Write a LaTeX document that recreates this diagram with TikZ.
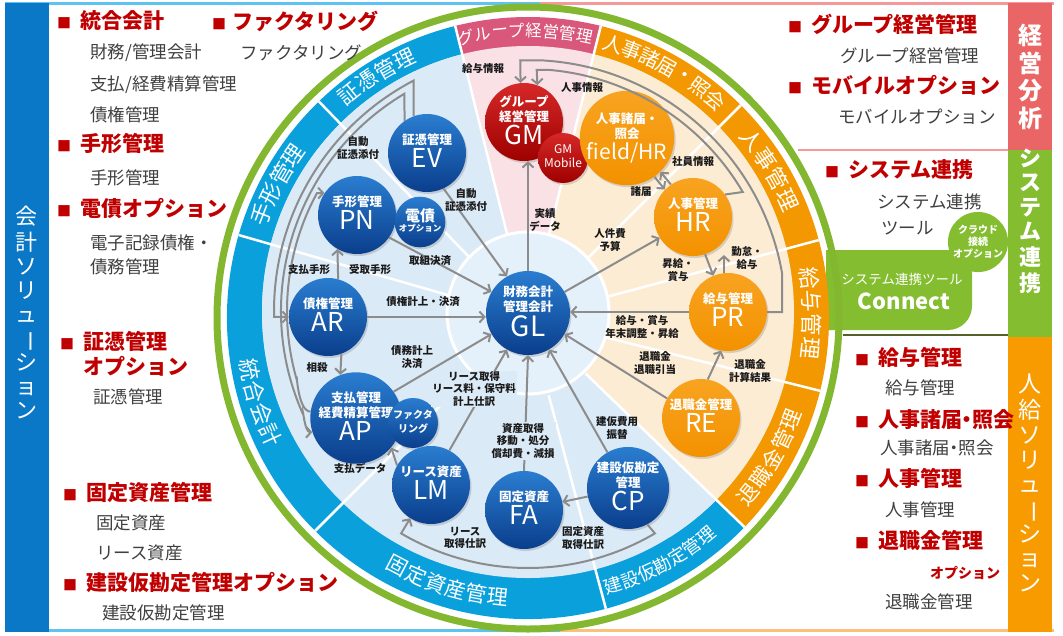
\documentclass[tikz,border=0pt]{standalone}
\usepackage{fontspec}
\setmainfont{Noto Sans CJK JP}
\usetikzlibrary{arrows.meta,shadows,calc}
\definecolor{gring}{HTML}{82B72F}
\definecolor{bband}{HTML}{0AA0DC}
\definecolor{pband}{HTML}{D9577A}
\definecolor{oband}{HTML}{F39800}
\definecolor{lblue}{HTML}{DBEAF7}
\definecolor{iblue}{HTML}{E4F0FA}
\definecolor{lpink}{HTML}{F9E1E6}
\definecolor{lorange}{HTML}{FDECD4}
\definecolor{nbT}{HTML}{2A7DD0}
\definecolor{nbB}{HTML}{0A3E8C}
\definecolor{nrT}{HTML}{D62828}
\definecolor{nrB}{HTML}{9E0000}
\definecolor{noT}{HTML}{F8A320}
\definecolor{noB}{HTML}{F39200}
\definecolor{hred}{HTML}{C00000}
\definecolor{gtext}{HTML}{404040}
\definecolor{conncol}{HTML}{8C8C8C}
\definecolor{lbar}{HTML}{0A78C6}
\definecolor{kbar}{HTML}{EA6565}
\definecolor{sbar}{HTML}{84BD2F}
\definecolor{jbar}{HTML}{F79B00}
\definecolor{topblue}{HTML}{5EC3F0}
\definecolor{toppink}{HTML}{F59A9A}
\definecolor{botorange}{HTML}{FBC07A}
\definecolor{olivec}{HTML}{55602A}
\definecolor{lblc}{HTML}{1A1A1A}
\newcommand{\ttl}{\fontsize{12.5}{14.5}\selectfont\bfseries}
\newcommand{\cde}{\fontsize{26}{27}\selectfont}
\newcommand{\hsq}{\makebox[23pt][l]{\fontsize{14}{14}\selectfont ■}}
\newcommand{\ringtext}[7]{%
 \foreach \ch [count=\rtI] in {#1} {%
   \pgfmathsetmacro{\rtA}{#3 + #5*((#2-1)/2 - (\rtI-1))*#4}%
   \pgfmathsetmacro{\rtR}{\rtA - #5*90}%
   \node[text=white, inner sep=0pt, font=\fontsize{#7}{#7}\selectfont, rotate=\rtR] at (\rtA:#6) {\ch};%
 }}
\tikzset{
 conn/.style={draw=conncol, line width=2pt, -{Straight Barb[length=5pt,width=11pt]}},
 plain/.style={draw=conncol, line width=2pt},
 shd/.style={drop shadow={opacity=0.3,shadow xshift=1.5pt,shadow yshift=-2pt}},
 bnode/.style={circle, inner sep=0pt, top color=nbT, bottom color=nbB, text=white, shd, font=\fontsize{12}{13.5}\selectfont},
 rnode/.style={circle, inner sep=0pt, top color=nrT, bottom color=nrB, text=white, shd, font=\fontsize{12}{13.5}\selectfont},
 onode/.style={circle, inner sep=0pt, top color=noT, bottom color=noB, text=white, shd, font=\fontsize{12}{13.5}\selectfont},
 lbl/.style={font=\fontsize{10.5}{12.5}\selectfont\bfseries, text=lblc, align=center, inner sep=1pt},
 hd/.style={anchor=west, text=hred, font=\fontsize{21}{23}\selectfont\bfseries, inner sep=0pt},
 bt/.style={anchor=west, text=gtext, font=\fontsize{17.5}{23}\selectfont, inner sep=0pt, align=left},
 vbar/.style={text=white, inner sep=0pt},
}
\begin{document}
\begin{tikzpicture}[x=1pt,y=-1pt]
\useasboundingbox (0,0) rectangle (1063,635);
\fill[white] (0,0) rectangle (1063,635);
% frame
\draw[topblue, line width=3] (5,3.5) -- (540,3.5);
\draw[toppink, line width=3] (540,3.5) -- (1054,3.5);
\draw[topblue, line width=3] (5,630) -- (560,630);
\draw[botorange, line width=3] (560,630) -- (1054,630);
\fill[lbar] (5,3) rectangle (49,632);
\fill[kbar] (1008,3) rectangle (1052,150);
\fill[sbar] (1008,150) rectangle (1052,337);
\fill[jbar] (1008,337) rectangle (1052,632);
\draw[toppink, line width=2] (798,150) -- (1008,150);
\draw[olivec, line width=2] (843,335) -- (1008,335);
% bar texts
\node[vbar, font=\fontsize{22}{24}\selectfont] (barL) at (27,316) {\begin{tabular}{@{}c@{}}会\\計\\ソ\\リ\\ュ\\\rotatebox[origin=c]{-90}{ー}\\シ\\ョ\\ン\end{tabular}};
\node[vbar, font=\fontsize{24}{23.5}\selectfont\bfseries] (barK) at (1030,79) {\begin{tabular}{@{}c@{}}経\\営\\分\\析\end{tabular}};
\node[vbar, font=\fontsize{22}{24}\selectfont\bfseries] (barS) at (1030,224) {\begin{tabular}{@{}c@{}}シ\\ス\\テ\\ム\\連\\携\end{tabular}};
\node[vbar, font=\fontsize{23}{24.5}\selectfont] (barJ) at (1030,486) {\begin{tabular}{@{}c@{}}人\\給\\ソ\\リ\\ュ\\\rotatebox[origin=c]{-90}{ー}\\シ\\ョ\\ン\end{tabular}};
% connect shape
\fill[sbar] (826,250) [rounded corners=24] -- (972,250) -- (972,330) [sharp corners] -- (826,330) -- cycle;
\node[circle, fill=sbar, minimum size=60, inner sep=0pt, text=white, align=center, font=\fontsize{10}{12}\selectfont\bfseries] (cloud) at (978,242) {クラウド\\接続\\オプション};
\node[text=white, inner sep=0pt, font=\fontsize{13.5}{14}\selectfont] (cn1) at (902,279) {システム連携ツール};
\node[text=white, inner sep=0pt, font=\fontsize{22}{24}\selectfont\bfseries] (cn2) at (904,301) {Connect};
% ===== circle =====
\begin{scope}[shift={(528,318)}, yscale=-1]
 \draw[gring, line width=7] (0,0) circle (311);
 \fill[bband] (0,0) -- (104:301) arc[start angle=104, end angle=316, radius=301] -- cycle;
 \fill[pband] (0,0) -- (76:301) arc[start angle=76, end angle=104, radius=301] -- cycle;
 \fill[oband] (0,0) -- (-44:301) arc[start angle=-44, end angle=76, radius=301] -- cycle;
 \begin{scope}
  \clip (0,6) circle (266);
  \fill[lblue] (0,0) -- (104:400) -- (180:400) -- (316:400) -- cycle;
  \fill[lblue] (0,0) -- (104:400) -- (180:400) -- (240:400) -- (316:400) -- cycle;
  \fill[lpink] (0,0) -- (76:400) -- (104:400) -- cycle;
  \fill[lorange] (0,0) -- (-44:400) -- (0:400) -- (76:400) -- cycle;
 \end{scope}
 \foreach \a in {104,134,164,225,285,316,346,15,45,76} \draw[white, line width=2.5] (\a:80) -- (\a:301);
 \fill[iblue] (0,5) circle (81);
 \draw[white, line width=3] (0,5) circle (81);
 \ringtext{証,憑,管,理}{4}{122}{4.4}{1}{287}{21}
 \ringtext{手,形,管,理}{4}{152}{4.5}{1}{285.5}{22}
 \ringtext{統,合,会,計}{4}{197.5}{4.6}{-1}{283}{22}
 \ringtext{固,定,資,産,管,理}{6}{-107}{4.3}{-1}{280.5}{21}
 \ringtext{建,設,仮,勘,定,管,理}{7}{-61.5}{3.6}{-1}{281}{18}
 \ringtext{退,職,金,管,理}{5}{-30}{4.4}{-1}{282}{21}
 \ringtext{給,与,管,理}{4}{1}{4.7}{1}{284}{22}
 \ringtext{人,事,管,理}{4}{31.5}{4.7}{1}{285.5}{22}
 \ringtext{人,事,諸,届,・,照,会}{7}{61}{3.9}{1}{287}{20}
 \ringtext{グ,ル,ー,プ,経,営,管,理}{8}{90.5}{3.4}{1}{287.5}{16.5}
\end{scope}
% ===== nodes =====
\node[bnode, minimum size=84] (GL) at (528,313) {\begin{tabular}{@{}c@{}}\ttl 財務会計\\\ttl 管理会計\\\fontsize{28}{28}\selectfont GL\end{tabular}};
\node[bnode, minimum size=78] (EV) at (427,153) {\begin{tabular}{@{}c@{}}\ttl 証憑管理\\\cde EV\end{tabular}};
\node[bnode, minimum size=78] (PN) at (357,215) {\begin{tabular}{@{}c@{}}\ttl 手形管理\\\cde PN\end{tabular}};
\node[bnode, minimum size=50] (DN) at (420,222) {\begin{tabular}{@{}c@{}}\fontsize{15}{16}\selectfont\bfseries 電債\\[-3pt]\fontsize{8.5}{9}\selectfont\bfseries オプション\end{tabular}};
\node[bnode, minimum size=78] (AR) at (328,317) {\begin{tabular}{@{}c@{}}\ttl 債権管理\\\cde AR\end{tabular}};
\node[bnode, minimum size=80] (AP) at (356,418) {\begin{tabular}{@{}c@{}}\ttl 支払管理\\\ttl 経費精算管理\\\cde AP\end{tabular}};
\node[bnode, minimum size=50] (FC) at (413,423) {\begin{tabular}{@{}c@{}}\fontsize{10}{11}\selectfont\bfseries ファクタ\\\fontsize{10}{11}\selectfont\bfseries リング\end{tabular}};
\node[bnode, minimum size=78] (LM) at (431,485) {\begin{tabular}{@{}c@{}}\ttl リース資産\\\cde LM\end{tabular}};
\node[bnode, minimum size=78] (FA) at (524,510) {\begin{tabular}{@{}c@{}}\ttl 固定資産\\\cde FA\end{tabular}};
\node[bnode, minimum size=78] (CP) at (628,488) {\begin{tabular}{@{}c@{}}\ttl 建設仮勘定\\\ttl 管理\\\cde CP\end{tabular}};
\node[rnode, minimum size=78] (GM) at (524,122) {\begin{tabular}{@{}c@{}}\ttl グループ\\\ttl 経営管理\\\cde GM\end{tabular}};
\node[rnode, minimum size=50] (GMM) at (563,158) {\begin{tabular}{@{}c@{}}\fontsize{12}{13}\selectfont GM\\\fontsize{12}{13}\selectfont Mobile\end{tabular}};
\node[onode, minimum size=78] (FH) at (627,138) {\begin{tabular}{@{}c@{}}\ttl 人事諸届・\\\ttl 照会\\\fontsize{21}{22}\selectfont field/HR\end{tabular}};
\node[onode, minimum size=78] (HR) at (693,217) {\begin{tabular}{@{}c@{}}\ttl 人事管理\\\cde HR\end{tabular}};
\node[onode, minimum size=78] (PR) at (728,312) {\begin{tabular}{@{}c@{}}\ttl 給与管理\\\cde PR\end{tabular}};
\node[onode, minimum size=78] (RE) at (701,418) {\begin{tabular}{@{}c@{}}\ttl 退職金管理\\\cde RE\end{tabular}};
% ===== connectors =====
\draw[conn] (EV.-65) -- (GL.120);
\draw[conn] (PN.-35) -- (GL.150);
\draw[conn] (AR.east) -- (AR.east -| GL.west);
\draw[conn] (AP.35) -- (GL.-150);
\draw[conn] (LM.62) -- (GL.-120);
\draw[conn] (FA.north) -- (GL.south);
\draw[conn] (CP.120) -- (GL.-60);
\draw[conn] (RE.150) -- (GL.-30);
\draw[conn] (PR.west) -- (PR.west -| GL.east);
\draw[conn] (GL.north) -- (GL.north |- GM.south);
\draw[conn] (GL.30) -- (HR.-148);
\draw[conn] ([shift={(-3,2.5)}]FH.-50) -- ([shift={(-3,2.5)}]HR.130);
\draw[conn] ([shift={(3,-2.5)}]HR.130) -- ([shift={(3,-2.5)}]FH.-50);
\draw[conn] (HR.-72) -- (PR.112);
\draw[conn] (PR.96) -- ++(0,-18);
\draw[conn] (RE.80) -- (PR.-100);
\draw[conn] (CP) -- (FA);
\draw[conn] (LM.150) -- (AP.-40);
\draw[conn] (AR.75) -- (PN.-120);
\draw[conn] (AR.-70) -- (AP.110);
\begin{scope}[shift={(528,318)}, yscale=-1]
 \draw[conn] (CP.-62) -- (-59.5:250) arc[start angle=-59.5, end angle=-120.5, radius=250] -- (LM.-122);
 \draw[conn] (HR.35) -- (30.4:249) arc[start angle=30.4, end angle=85, radius=249] -- ++(-13,0) -- (GM.70);
 \draw[conn] (PR.east) -- ++(15,0) -- (10.1:258) arc[start angle=10.1, end angle=86.5, radius=258] -- ++(-23.5,0) -- (GM.95);
\end{scope}
% left arcs (centred near the ring centre)
\begin{scope}[shift={(534,311)}, yscale=-1]
 \draw[conn] (EV.110) -- (117.6:260) arc[start angle=117.6, end angle=181.3, radius=260] -- (AR.west);
 \draw[conn] (EV.125) -- (120.8:253) arc[start angle=120.8, end angle=204, radius=253] to[out=-90,in=180] (AP.198);
 \draw[conn] (AP.172) to[out=180,in=-90] (196:247) arc[start angle=196, end angle=151.5, radius=247] -- (PN.146);
\end{scope}
% ===== labels =====
\node[lbl] (l1) at (466,200) {自動\\証憑添付};
\node[lbl] (l2) at (358,148) {自動\\証憑添付};
\node[lbl] (l3) at (430,261) {取組決済};
\node[lbl] (l4) at (309,270) {支払手形};
\node[lbl] (l5) at (370,270) {受取手形};
\node[lbl] (l6) at (423,302) {債権計上・決済};
\node[lbl] (l7) at (317,368) {相殺};
\node[lbl] (l8) at (412,357) {債務計上\\決済};
\node[lbl, fill=lblue] (l9) at (474,389) {リース取得\\リース料・保守料\\計上仕訳};
\node[lbl, fill=lblue] (l10) at (523,441) {資産取得\\移動・処分\\償却費・減損};
\node[lbl] (l11) at (617,428) {建仮費用\\振替};
\node[lbl] (l12) at (360,468) {支払データ};
\node[lbl] (l13) at (465,538) {リース\\取得仕訳};
\node[lbl] (l14) at (583,538) {固定資産\\取得仕訳};
\node[lbl] (l15) at (545,220) {実績\\データ};
\node[lbl] (l16) at (483,69) {給与情報};
\node[lbl] (l17) at (582,88) {人事情報};
\node[lbl] (l18) at (693,162) {社員情報};
\node[lbl] (l19) at (641,192) {諸届};
\node[lbl] (l20) at (610,240) {人件費\\予算};
\node[lbl] (l21) at (678,270) {昇給・\\賞与};
\node[lbl] (l22) at (747,258) {勤怠・\\給与};
\node[lbl] (l23) at (642,327) {給与・賞与\\年末調整・昇給};
\node[lbl] (l24) at (655,363) {退職金\\退職引当};
\node[lbl] (l25) at (750,371) {退職金\\計算結果};
% ===== left texts =====
\node[hd] (h1) at (57,21) {\hsq 統合会計};
\node[hd] (h2) at (212,21) {\makebox[20pt][l]{\fontsize{14}{14}\selectfont ■}ファクタリング};
\node[bt] (t1) at (90,53) {財務/管理会計};
\node[bt] (t2) at (240,53) {ファクタリング};
\node[bt] (t3) at (90,85) {支払/経費精算管理};
\node[bt] (t4) at (90,115) {債権管理};
\node[hd] (h3) at (57,144) {\hsq 手形管理};
\node[bt] (t5) at (90,178) {手形管理};
\node[hd] (h4) at (57,208) {\hsq 電債オプション};
\node[bt] (t6) at (90,243) {電子記録債権・};
\node[bt] (t7) at (90,267) {債務管理};
\node[hd] (h5) at (60,341) {\hsq 証憑管理};
\node[hd] (h5b) at (83,366) {オプション};
\node[bt] (t8) at (93,397) {証憑管理};
\node[hd] (h6) at (63,492) {\hsq 固定資産管理};
\node[bt] (t9) at (96,523) {固定資産};
\node[bt] (t10) at (96,553) {リース資産};
\node[hd] (h7) at (63,582) {\hsq 建設仮勘定管理オプション};
\node[bt] (t11) at (102,613) {建設仮勘定管理};
% ===== right texts =====
\node[hd] (r1) at (788,24) {\hsq グループ経営管理};
\node[bt] (s1) at (840,56) {グループ経営管理};
\node[hd] (r2) at (788,85) {\hsq モバイルオプション};
\node[bt] (s2) at (838,117) {モバイルオプション};
\node[hd] (r3) at (825,170) {\hsq システム連携};
\node[bt] (s3) at (877,202) {システム連携};
\node[bt] (s4) at (881,228) {ツール};
\node[hd] (r4) at (855,357) {\hsq 給与管理};
\node[bt] (s5) at (885,388) {給与管理};
\node[hd] (r5) at (855,420) {\hsq\addfontfeatures{RawFeature=+palt}人事諸届・照会};
\node[bt] (s6) at (880,448) {\addfontfeatures{RawFeature=+palt}人事諸届・照会};
\node[hd] (r6) at (855,478) {\hsq 人事管理};
\node[bt] (s7) at (885,510) {人事管理};
\node[hd] (r7) at (855,540) {\hsq 退職金管理};
\node[hd, font=\fontsize{14}{16}\selectfont\bfseries] (r7b) at (930,573) {オプション};
\node[bt] (s8) at (885,602) {退職金管理};
\end{tikzpicture}
\end{document}
